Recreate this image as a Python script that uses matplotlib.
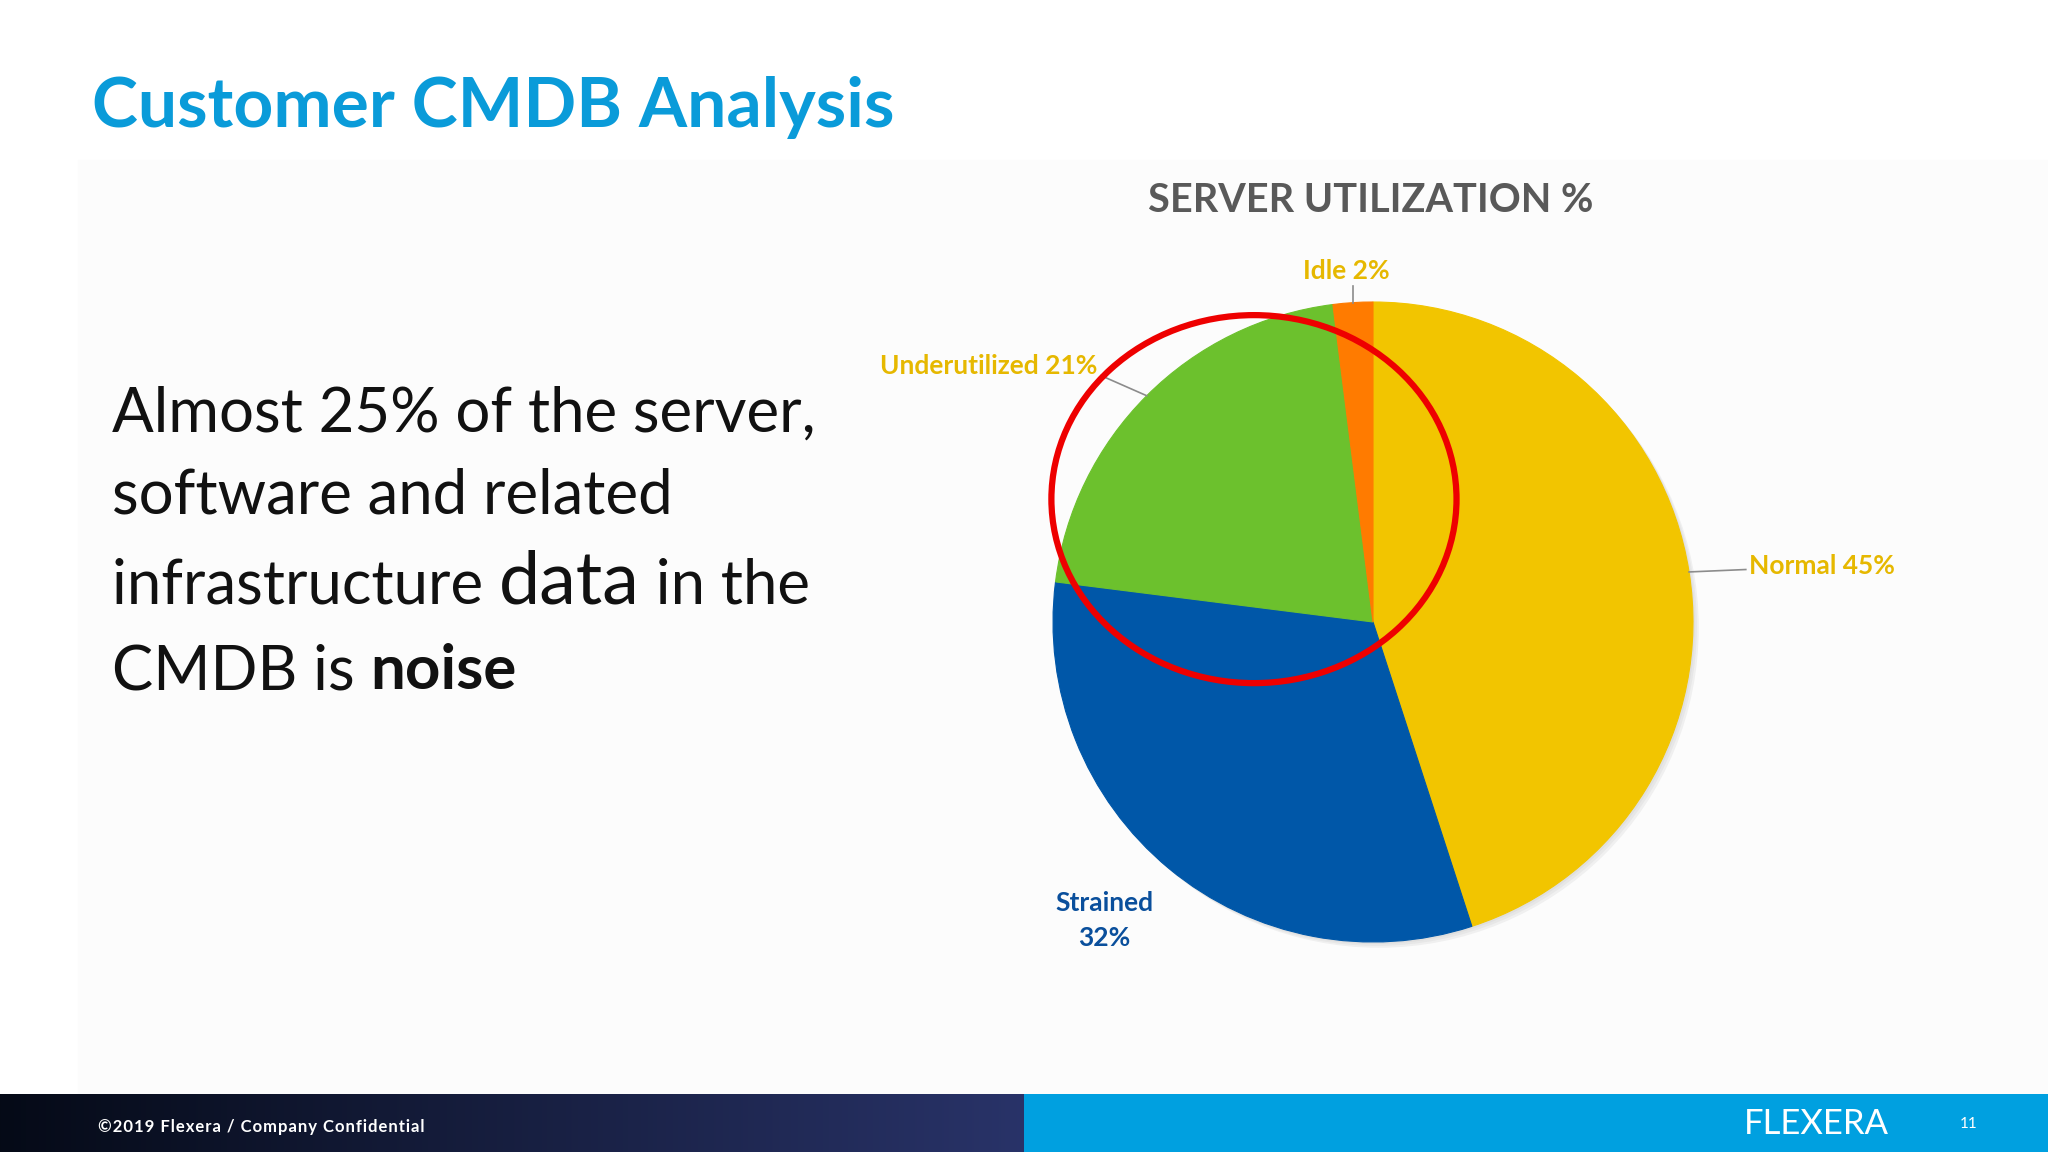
import numpy as np
import matplotlib
matplotlib.use("Agg")
import matplotlib.pyplot as plt
from matplotlib.patches import Rectangle, Ellipse, Circle

# data
labels = ["Normal", "Strained", "Underutilized", "Idle"]
values = [45, 32, 21, 2]
colors = ["#F2C500", "#0057A8", "#6CC12D", "#FF7B00"]
label_colors = ["#E6B800", "#0A4F9C", "#E6B800", "#E6B800"]

title = "Customer CMDB Analysis"
chart_title = "SERVER UTILIZATION %"
footer = "\u00a92019 Flexera / Company Confidential"
page_no = "11"

W, H = 2048, 1152
plt.rcParams["font.family"] = ["Lato", "DejaVu Sans"]

fig = plt.figure(figsize=(W / 100, H / 100), dpi=100)
fig.patch.set_facecolor("white")

# background axes in pixel coords
bg = fig.add_axes([0, 0, 1, 1])
bg.set_xlim(0, W)
bg.set_ylim(H, 0)
bg.axis("off")
bg.add_patch(Rectangle((78, 160), W - 78, 934, color="#FCFCFC", zorder=0))

# footer band
grad = np.zeros((1, W, 3))
xs = np.linspace(0, 1, W)
left = xs < 0.5
t = np.clip(xs / 0.5, 0, 1)
grad[0, :, 0] = np.where(left, 0.02 + 0.14 * t, 0.0)
grad[0, :, 1] = np.where(left, 0.04 + 0.16 * t, 0.63)
grad[0, :, 2] = np.where(left, 0.09 + 0.32 * t, 0.88)
bg.imshow(grad, extent=[0, W, H, 1094], aspect="auto", zorder=1)
bg.set_xlim(0, W)
bg.set_ylim(H, 0)
spaced = "\u200a".join(footer)
bg.text(98, 1127, spaced, color="white", fontsize=12, fontweight="bold",
        va="center", ha="left", zorder=3)
bg.text(1816, 1124, "FLEXERA", color="white", fontsize=25,
        va="center", ha="center", zorder=3)
bg.text(1969, 1124, page_no, color="white", fontsize=11, va="center",
        ha="center", zorder=3)

# title
bg.text(92, 127, title, color="#0A9BD9", fontsize=50, fontweight="bold",
        va="baseline", ha="left")
bg.text(1371, 200, chart_title, color="#595959", fontsize=28.5,
        fontweight="bold", va="center", ha="center")

# body text, pieces placed one after another
body_lines = [
    [("Almost 25% of the server,", 44.5, "normal")],
    [("software and related", 44.5, "normal")],
    [("infrastructure ", 44.5, "normal"), ("data", 53, "normal"),
     (" in the", 44.5, "normal")],
    [("CMDB is ", 44.5, "normal"), ("noise", 44.5, "bold")],
]
body_y = [432, 514, 603, 689]
fig.canvas.draw()
renderer = fig.canvas.get_renderer()
for parts, y in zip(body_lines, body_y):
    x = 112
    for s, size, weight in parts:
        t_ = bg.text(x, y, s, fontsize=size, fontweight=weight,
                     color="#111111", va="baseline", ha="left")
        bb = t_.get_window_extent(renderer=renderer)
        x += bb.width

# pie
cx, cy, r = 1373, 622, 320
pax = fig.add_axes([(cx - r) / W, (H - cy - r) / H, 2 * r / W, 2 * r / H])
# soft drop shadow behind the pie
for k, a in enumerate([0.10, 0.10, 0.12]):
    off = 0.006 * (k + 1)
    pax.add_patch(Circle((off, -off), 1.0, color="#9A9A9A", alpha=a,
                         lw=0, zorder=0, clip_on=False))
wedges, _ = pax.pie(values, colors=colors, startangle=90, counterclock=False,
                    wedgeprops=dict(linewidth=0.8))
for w, c in zip(wedges, colors):
    w.set_edgecolor(c)
    w.set_zorder(2)
pax.set_xlim(-1, 1)
pax.set_ylim(-1, 1)
pax.set_aspect("equal")
pax.axis("off")

# labels
text_pos = {
    "Normal": (1.175, 0.176, "left", "center"),
    "Strained": (-0.84, -0.932, "center", "center"),
    "Underutilized": (-0.86, 0.80, "right", "center"),
    "Idle": (-0.084, 1.06, "center", "bottom"),
}
for w, lab, v, lc in zip(wedges, labels, values, label_colors):
    ang = np.deg2rad((w.theta1 + w.theta2) / 2)
    ex, ey = np.cos(ang), np.sin(ang)
    tx, ty, ha, va = text_pos[lab]
    txt = f"{lab}\n{v}%" if lab == "Strained" else f"{lab} {v}%"
    pax.text(tx, ty, txt, color=lc, fontsize=19, fontweight="bold",
             ha=ha, va=va, linespacing=1.55)
    if lab == "Normal":
        pax.plot([ex, tx - 0.01], [ey, ty - 0.012], color="#8C8C8C", lw=1.2, clip_on=False)
    elif lab == "Underutilized":
        pax.plot([ex, tx + 0.01], [ey, ty - 0.03], color="#8C8C8C", lw=1.2, clip_on=False)
    elif lab == "Idle":
        pax.plot([ex, ex], [ey, ty - 0.01], color="#8C8C8C", lw=1.2, clip_on=False)

# red circle highlight
pax.add_patch(Ellipse((-0.372, 0.384), 1.266, 1.15, fill=False,
                      edgecolor="#EE0000", lw=4.5, clip_on=False, zorder=5))

fig.savefig("out.png", dpi=100)
